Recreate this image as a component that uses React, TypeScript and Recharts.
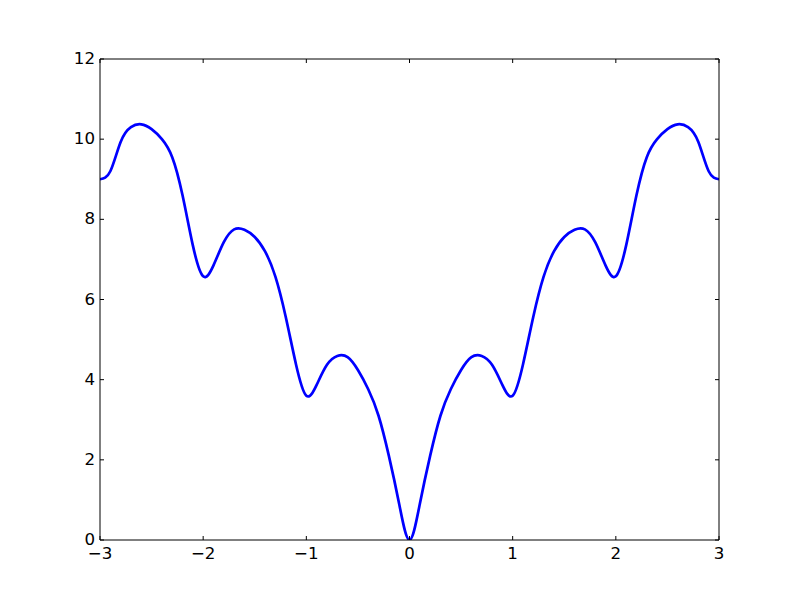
import { LineChart, Line, XAxis, YAxis } from 'recharts';

// x positions and curve values
const xValues = [
  -3.0, -2.9, -2.8, -2.7, -2.6, -2.5, -2.4, -2.3, -2.2, -2.1, -2.0, -1.9, -1.8, -1.7, -1.6, -1.5, -1.4,
  -1.3, -1.2, -1.1, -1.0, -0.9, -0.8, -0.7, -0.6, -0.5, -0.4, -0.3, -0.2, -0.1, 0.0,
  0.1, 0.2, 0.3, 0.4, 0.5, 0.6, 0.7, 0.8, 0.9, 1.0, 1.1, 1.2, 1.3, 1.4, 1.5, 1.6, 1.7,
  1.8, 1.9, 2.0, 2.1, 2.2, 2.3, 2.4, 2.5, 2.6, 2.7, 2.8, 2.9, 3.0,
];
const yValues = [
  9.0, 9.2, 9.93, 10.3, 10.37, 10.25, 10.0, 9.55, 8.6, 7.35, 6.58, 6.85, 7.43, 7.75, 7.74, 7.56, 7.2,
  6.57, 5.57, 4.38, 3.6, 3.87, 4.37, 4.59, 4.56, 4.24, 3.76, 3.1, 2.1, 0.9, 0.0,
  0.9, 2.1, 3.1, 3.76, 4.24, 4.56, 4.59, 4.37, 3.87, 3.6, 4.38, 5.57, 6.57, 7.2, 7.56, 7.74, 7.75,
  7.43, 6.85, 6.58, 7.35, 8.6, 9.55, 10.0, 10.25, 10.37, 10.3, 9.93, 9.2, 9.0,
];

const xTicks = [-3, -2, -1, 0, 1, 2, 3];
const yTicks = [0, 2, 4, 6, 8, 10, 12];

const data = xValues.map((x, i) => ({ x, y: yValues[i] }));

const fmt = (v: number) => String(v).replace('-', '\u2212');
const font = { fill: '#000', fontSize: 16.67, fontFamily: 'DejaVu Sans' };
const TL = 4;

// matplotlib classic style: ticks point into the plot on all four sides
const BottomTick = (p: any) => (
  <g>
    <line x1={p.x} x2={p.x} y1={p.y} y2={p.y - TL} stroke="#000" strokeWidth={1} />
    <text x={p.x} y={p.y + 18.5} textAnchor="middle" {...font}>{fmt(p.payload.value)}</text>
  </g>
);
const LeftTick = (p: any) => (
  <g>
    <line x1={p.x} x2={p.x + TL} y1={p.y} y2={p.y} stroke="#000" strokeWidth={1} />
    <text x={p.x - 5} y={p.y + 5} textAnchor="end" {...font}>{fmt(p.payload.value)}</text>
  </g>
);
const TopTick = (p: any) => <line x1={p.x} x2={p.x} y1={p.y} y2={p.y + TL} stroke="#000" strokeWidth={1} />;
const RightTick = (p: any) => <line x1={p.x} x2={p.x - TL} y1={p.y} y2={p.y} stroke="#000" strokeWidth={1} />;

const axisLine = { stroke: '#000', strokeWidth: 1 };

export default function App() {
  return (
    <div style={{ position: 'absolute', left: 0, top: 0, width: 800, height: 600, background: '#fff' }}>
      <LineChart width={800} height={600} data={data} margin={{ top: 58, right: 80, bottom: 30, left: 60 }}>
        <XAxis
          dataKey="x"
          type="number"
          domain={[-3, 3]}
          ticks={xTicks}
          height={30}
          tickSize={0}
          tickMargin={0}
          tick={BottomTick}
          tickLine={false}
          axisLine={axisLine}
          allowDataOverflow
        />
        <XAxis
          xAxisId="top"
          orientation="top"
          dataKey="x"
          type="number"
          domain={[-3, 3]}
          ticks={xTicks}
          height={1}
          tickSize={0}
          tickMargin={0}
          tick={TopTick}
          tickLine={false}
          axisLine={axisLine}
          allowDataOverflow
        />
        <YAxis
          type="number"
          domain={[0, 12]}
          ticks={yTicks}
          width={40}
          tickSize={0}
          tickMargin={0}
          tick={LeftTick}
          tickLine={false}
          axisLine={axisLine}
          allowDataOverflow
        />
        <YAxis
          yAxisId="right"
          orientation="right"
          type="number"
          domain={[0, 12]}
          ticks={yTicks}
          width={1}
          tickSize={0}
          tickMargin={0}
          tick={RightTick}
          tickLine={false}
          axisLine={axisLine}
          allowDataOverflow
        />
        <Line
          dataKey="y"
          type="natural"
          stroke="#0000ff"
          strokeWidth={2.7}
          dot={false}
          isAnimationActive={false}
        />
        <Line
          xAxisId="top"
          yAxisId="right"
          dataKey="y"
          stroke="none"
          dot={false}
          activeDot={false}
          isAnimationActive={false}
        />
      </LineChart>
    </div>
  );
}
